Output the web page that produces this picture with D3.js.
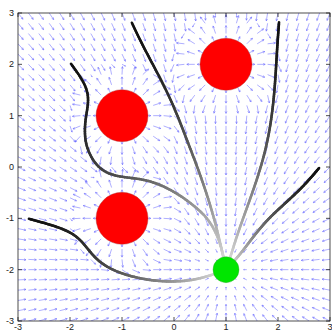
<!DOCTYPE html>
<html>
<head>
<meta charset="utf-8">
<script src="https://cdn.jsdelivr.net/npm/d3@7"></script>
<style>
  body { margin: 0; background: #fff; }
  text { font-family: "Liberation Sans", Arial, sans-serif; font-size: 9px; fill: #222; }
</style>
</head>
<body>
<div id="chart"></div>
<script>
// axis ticks
const xTicks = [-3, -2, -1, 0, 1, 2, 3];
const yTicks = [-3, -2, -1, 0, 1, 2, 3];

// obstacles (red) and goal (green)
const obstacleX = [-1, -1, 1];
const obstacleY = [1, -1, 2];
const obstacleR = 0.5;
const goal = [1, -2];
const goalR = 0.25;

// trajectories, start -> goal
const pathA = [[-1.98, 2.01], [-1.75, 1.69], [-1.64, 1.42], [-1.66, 1.15], [-1.71, 0.90], [-1.72, 0.58],
  [-1.66, 0.32], [-1.52, 0.06], [-1.30, -0.13], [-0.98, -0.20], [-0.65, -0.23], [-0.33, -0.31],
  [0.06, -0.51], [0.37, -0.74], [0.66, -1.00], [0.85, -1.36], [0.95, -1.72], [1.0, -2.0]];
const pathB = [[-0.81, 2.81], [-0.62, 2.40], [-0.38, 1.95], [-0.15, 1.50], [0.05, 1.05], [0.24, 0.55],
  [0.45, 0.0], [0.64, -0.55], [0.80, -1.10], [0.92, -1.62], [1.0, -2.0]];
const pathC = [[2.02, 2.82], [1.98, 2.28], [1.94, 1.50], [1.85, 0.72], [1.69, 0.04], [1.46, -0.64],
  [1.23, -1.27], [1.08, -1.77], [1.0, -2.0]];
const pathD = [[2.79, -0.02], [2.48, -0.39], [2.10, -0.74], [1.79, -1.03], [1.52, -1.36], [1.27, -1.71], [1.0, -2.0]];
const pathE = [[-2.79, -1.01], [-2.38, -1.12], [-2.02, -1.25], [-1.80, -1.41], [-1.62, -1.65], [-1.42, -1.87],
  [-1.10, -2.05], [-0.65, -2.18], [-0.17, -2.24], [0.31, -2.22], [0.69, -2.12], [1.0, -2.0]];
const paths = [pathA, pathB, pathC, pathD, pathE];

// quiver grid
const gridStep = 0.2;

const width = 332, height = 332;
const x = d3.scaleLinear().domain([-3, 3]).range([18, 330]);
const y = d3.scaleLinear().domain([-3, 3]).range([321, 13]);

const svg = d3.select('#chart').append('svg')
  .attr('width', width)
  .attr('height', height);

svg.append('defs').append('clipPath').attr('id', 'plot')
  .append('rect')
  .attr('x', x(-3)).attr('y', y(3))
  .attr('width', x(3) - x(-3)).attr('height', y(-3) - y(3));

const plot = svg.append('g').attr('clip-path', 'url(#plot)');

// potential field: attraction to goal + repulsion from obstacles
function field(px, py) {
  let dx = goal[0] - px, dy = goal[1] - py;
  const d = Math.hypot(dx, dy);
  let fx = d > 1 ? dx / d : dx;
  let fy = d > 1 ? dy / d : dy;
  const rho0 = 0.6, eta = 0.5;
  obstacleX.forEach((ox, i) => {
    const oy = obstacleY[i];
    const rx = px - ox, ry = py - oy;
    const dc = Math.hypot(rx, ry);
    const ds = Math.max(dc - obstacleR, 0.02);
    if (ds < rho0) {
      const m = eta * (1 / ds - 1 / rho0) / (ds * ds);
      fx += m * rx / dc;
      fy += m * ry / dc;
    }
  });
  const mag = Math.hypot(fx, fy);
  if (mag > 1) { fx /= mag; fy /= mag; }
  return [fx, fy];
}

const grid = [];
d3.range(-15, 16).forEach(i => {
  d3.range(-15, 16).forEach(j => {
    const gx = i * gridStep, gy = j * gridStep;
    const [u, v] = field(gx, gy);
    grid.push({ gx, gy, u, v });
  });
});

const arrowLen = 8;
const quiver = plot.append('g')
  .attr('stroke', 'rgb(95,95,255)')
  .attr('stroke-width', 0.5)
  .attr('fill', 'none');

quiver.selectAll('path')
  .data(grid)
  .enter()
  .append('path')
  .attr('d', d => {
    const x0 = x(d.gx), y0 = y(d.gy);
    const x1 = x0 + d.u * arrowLen, y1 = y0 - d.v * arrowLen;
    const len = Math.hypot(x1 - x0, y1 - y0);
    if (len < 0.3) return '';
    const a = Math.atan2(y1 - y0, x1 - x0);
    const h = len * 0.28, s = 0.45;
    const hx1 = x1 - h * Math.cos(a - s), hy1 = y1 - h * Math.sin(a - s);
    const hx2 = x1 - h * Math.cos(a + s), hy2 = y1 - h * Math.sin(a + s);
    return `M${x0},${y0}L${x1},${y1}M${hx1},${hy1}L${x1},${y1}L${hx2},${hy2}`;
  });

// trajectories with dark -> light shading
const line = d3.line()
  .x(d => x(d[0]))
  .y(d => y(d[1]))
  .curve(d3.curveBasis);

const shade = d3.interpolateRgb('#111', '#e4e4e4');
const trajG = plot.append('g');
paths.forEach(p => {
  const guide = trajG.append('path').attr('d', line(p)).attr('fill', 'none').attr('stroke', 'none');
  const node = guide.node();
  const total = node.getTotalLength();
  const n = 120;
  const pts = d3.range(n + 1).map(k => node.getPointAtLength(total * k / n));
  trajG.selectAll(null)
    .data(d3.range(n))
    .enter()
    .append('line')
    .attr('x1', k => pts[k].x).attr('y1', k => pts[k].y)
    .attr('x2', k => pts[k + 1].x).attr('y2', k => pts[k + 1].y)
    .attr('stroke', k => shade(Math.pow(k / n, 1.6)))
    .attr('stroke-width', 2.6)
    .attr('stroke-linecap', 'round');
  guide.remove();
});

// obstacles and goal
plot.selectAll('.obstacle')
  .data(obstacleX)
  .enter()
  .append('circle')
  .attr('class', 'obstacle')
  .attr('cx', d => x(d))
  .attr('cy', (d, i) => y(obstacleY[i]))
  .attr('r', x(obstacleR) - x(0))
  .attr('fill', '#ff0000')
  .attr('stroke', '#a33')
  .attr('stroke-width', 0.4);

plot.append('circle')
  .attr('cx', x(goal[0]))
  .attr('cy', y(goal[1]))
  .attr('r', x(goalR) - x(0))
  .attr('fill', '#00e600')
  .attr('stroke', '#3a3')
  .attr('stroke-width', 0.4);

// axes box with inward ticks on all sides
const axes = svg.append('g').attr('stroke', '#222').attr('stroke-width', 0.8).attr('fill', 'none');
axes.append('rect')
  .attr('x', x(-3)).attr('y', y(3))
  .attr('width', x(3) - x(-3)).attr('height', y(-3) - y(3));

const tk = 4;
xTicks.forEach(t => {
  axes.append('line').attr('x1', x(t)).attr('x2', x(t)).attr('y1', y(-3)).attr('y2', y(-3) - tk);
  axes.append('line').attr('x1', x(t)).attr('x2', x(t)).attr('y1', y(3)).attr('y2', y(3) + tk);
});
yTicks.forEach(t => {
  axes.append('line').attr('x1', x(-3)).attr('x2', x(-3) + tk).attr('y1', y(t)).attr('y2', y(t));
  axes.append('line').attr('x1', x(3)).attr('x2', x(3) - tk).attr('y1', y(t)).attr('y2', y(t));
});

svg.append('g').selectAll('text')
  .data(xTicks)
  .enter()
  .append('text')
  .attr('x', d => x(d))
  .attr('y', 330)
  .attr('text-anchor', 'middle')
  .text(d => d);

svg.append('g').selectAll('text')
  .data(yTicks)
  .enter()
  .append('text')
  .attr('x', 14)
  .attr('y', d => y(d) + 3)
  .attr('text-anchor', 'end')
  .text(d => d);
</script>
</body>
</html>
